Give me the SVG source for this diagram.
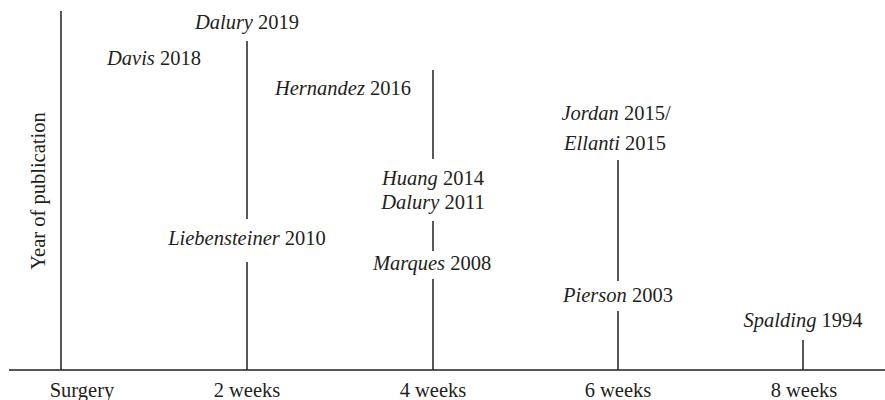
<svg xmlns="http://www.w3.org/2000/svg" width="885" height="400" viewBox="0 0 885 400">
<style>
text,tspan{font-family:"Liberation Serif","Times New Roman",serif;font-size:20.5px;fill:#231f20}
text{text-anchor:middle}
.i{font-family:"Liberation Serif","Times New Roman",serif;font-style:italic}
line{stroke:#231f20;stroke-width:1.5}
</style>
<rect width="885" height="400" fill="#fff"/>
<g id="connectors">
<line x1="9" y1="370" x2="885" y2="370"/>
<line x1="61" y1="11" x2="61" y2="370"/>
<line x1="247" y1="41" x2="247" y2="219"/>
<line x1="247" y1="262" x2="247" y2="370"/>
<line x1="433" y1="70" x2="433" y2="159"/>
<line x1="433" y1="221" x2="433" y2="251"/>
<line x1="433" y1="279" x2="433" y2="370"/>
<line x1="618" y1="160" x2="618" y2="281"/>
<line x1="618" y1="311" x2="618" y2="370"/>
<line x1="803" y1="340" x2="803" y2="370"/>
</g>
<g id="axis-y"><text x="45" y="191" transform="rotate(-90 45 191)">Year of publication</text></g>
<g id="axis-x">
<text x="82" y="397">Surgery</text>
<text x="247" y="397">2 weeks</text>
<text x="433" y="397">4 weeks</text>
<text x="618" y="397">6 weeks</text>
<text x="804" y="397">8 weeks</text>
</g>
<g id="dalury2019"><text x="247" y="29"><tspan class="i">Dalury</tspan> 2019</text></g>
<g id="davis2018"><text x="154" y="65"><tspan class="i">Davis</tspan> 2018</text></g>
<g id="hernandez2016"><text x="343" y="95"><tspan class="i">Hernandez</tspan> 2016</text></g>
<g id="huang2014"><text x="433" y="185"><tspan class="i">Huang</tspan> 2014</text></g>
<g id="dalury2011"><text x="433" y="209"><tspan class="i">Dalury</tspan> 2011</text></g>
<g id="liebensteiner2010"><text x="247" y="245"><tspan class="i">Liebensteiner</tspan> 2010</text></g>
<g id="marques2008"><text x="432" y="270"><tspan class="i">Marques</tspan> 2008</text></g>
<g id="jordan2015"><text x="616" y="120"><tspan class="i">Jordan</tspan> 2015/</text><text x="615" y="150"><tspan class="i">Ellanti</tspan> 2015</text></g>
<g id="pierson2003"><text x="618" y="302"><tspan class="i">Pierson</tspan> 2003</text></g>
<g id="spalding1994"><text x="803" y="327"><tspan class="i">Spalding</tspan> 1994</text></g>
</svg>
